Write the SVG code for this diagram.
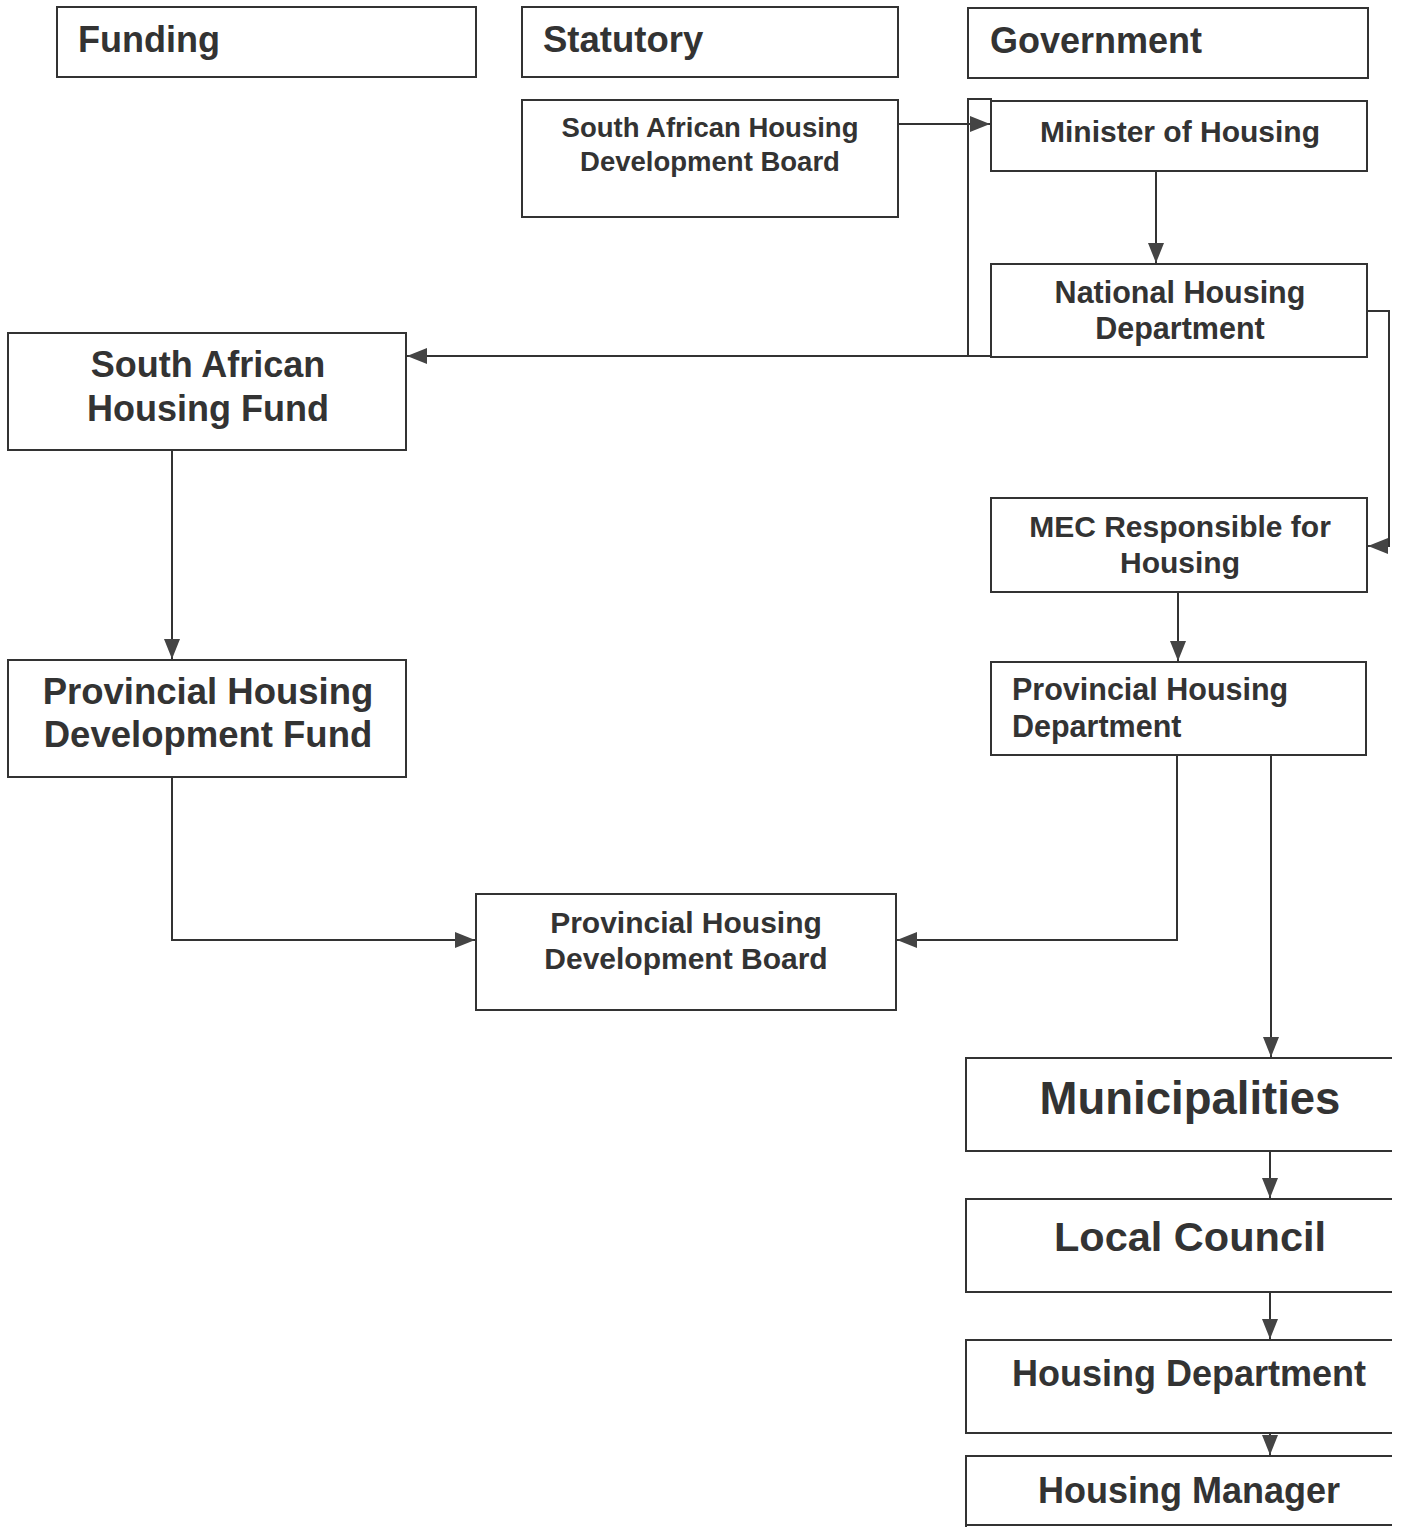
<svg xmlns="http://www.w3.org/2000/svg" width="1401" height="1527" viewBox="0 0 1401 1527">
<style>
.box{fill:#fff;stroke:#333;stroke-width:2}
.open{fill:none;stroke:#333;stroke-width:2}
.t{font-family:"Liberation Sans",Arial,sans-serif;font-weight:bold;fill:#333}
.c{text-anchor:middle}
.ln{fill:none;stroke:#333;stroke-width:2}
</style>
<defs>
<marker id="ahb" viewBox="0 0 10 10" refX="10" refY="5" markerWidth="20" markerHeight="16" markerUnits="userSpaceOnUse" orient="auto" preserveAspectRatio="none">
<path d="M0,0 L10,5 L0,10 Z" fill="#444"/>
</marker>
</defs>
<rect width="1401" height="1527" fill="#fff"/>

<g id="connectors">
<path class="ln" d="M898,124 H990" marker-end="url(#ahb)"/>
<path class="ln" d="M992,99 H968 V356"/>
<path class="ln" d="M992,356 H407" marker-end="url(#ahb)"/>
<path class="ln" d="M1156,171 V263" marker-end="url(#ahb)"/>
<path class="ln" d="M1367,311 H1389 V546 H1368" marker-end="url(#ahb)"/>
<path class="ln" d="M172,450 V659" marker-end="url(#ahb)"/>
<path class="ln" d="M1178,592 V661" marker-end="url(#ahb)"/>
<path class="ln" d="M172,777 V940 H475" marker-end="url(#ahb)"/>
<path class="ln" d="M1177,755 V940 H897" marker-end="url(#ahb)"/>
<path class="ln" d="M1271,755 V1057" marker-end="url(#ahb)"/>
<path class="ln" d="M1270,1151 V1198" marker-end="url(#ahb)"/>
<path class="ln" d="M1270,1292 V1339" marker-end="url(#ahb)"/>
<path class="ln" d="M1270,1433 V1455" marker-end="url(#ahb)"/>
</g>

<g id="funding">
<rect class="box" x="57" y="7" width="419" height="70"/>
<text class="t" x="78" y="52" font-size="36">Funding</text>
</g>
<g id="statutory">
<rect class="box" x="522" y="7" width="376" height="70"/>
<text class="t" x="543" y="52" font-size="36.5">Statutory</text>
</g>
<g id="government">
<rect class="box" x="968" y="8" width="400" height="70"/>
<text class="t" x="990" y="53" font-size="36">Government</text>
</g>

<g id="sahdb">
<rect class="box" x="522" y="100" width="376" height="117"/>
<text class="t c" x="710" y="137" font-size="27.5">South African Housing</text>
<text class="t c" x="710" y="171" font-size="27.5">Development Board</text>
</g>
<g id="minister">
<rect class="box" x="991" y="101" width="376" height="70"/>
<text class="t c" x="1180" y="142" font-size="30">Minister of Housing</text>
</g>
<g id="nhd">
<rect class="box" x="991" y="264" width="376" height="93"/>
<text class="t c" x="1180" y="303" font-size="30.5">National Housing</text>
<text class="t c" x="1180" y="339" font-size="30.5">Department</text>
</g>
<g id="sahf">
<rect class="box" x="8" y="333" width="398" height="117"/>
<text class="t c" x="208" y="377" font-size="36">South African</text>
<text class="t c" x="208" y="421" font-size="36">Housing Fund</text>
</g>
<g id="mec">
<rect class="box" x="991" y="498" width="376" height="94"/>
<text class="t c" x="1180" y="537" font-size="30">MEC Responsible for</text>
<text class="t c" x="1180" y="573" font-size="30">Housing</text>
</g>
<g id="phdf">
<rect class="box" x="8" y="660" width="398" height="117"/>
<text class="t c" x="208" y="704" font-size="36.5">Provincial Housing</text>
<text class="t c" x="208" y="747" font-size="36.5">Development Fund</text>
</g>
<g id="phd">
<rect class="box" x="991" y="662" width="375" height="93"/>
<text class="t" x="1012" y="700" font-size="30.5">Provincial Housing</text>
<text class="t" x="1012" y="737" font-size="30.5">Department</text>
</g>
<g id="phdb">
<rect class="box" x="476" y="894" width="420" height="116"/>
<text class="t c" x="686" y="933" font-size="30">Provincial Housing</text>
<text class="t c" x="686" y="969" font-size="30">Development Board</text>
</g>
<g id="municipalities">
<path class="open" d="M1392,1058 H966 V1151 H1392"/>
<text class="t c" x="1190" y="1114" font-size="45.5">Municipalities</text>
</g>
<g id="localcouncil">
<path class="open" d="M1392,1199 H966 V1292 H1392"/>
<text class="t c" x="1190" y="1251" font-size="41.5">Local Council</text>
</g>
<g id="housingdept">
<path class="open" d="M1392,1340 H966 V1433 H1392"/>
<text class="t c" x="1189" y="1386" font-size="36">Housing Department</text>
</g>
<g id="housingmanager">
<path class="open" d="M1392,1456 H966 V1527 M966,1525 H1392"/>
<text class="t c" x="1189" y="1503" font-size="36">Housing Manager</text>
</g>
</svg>
